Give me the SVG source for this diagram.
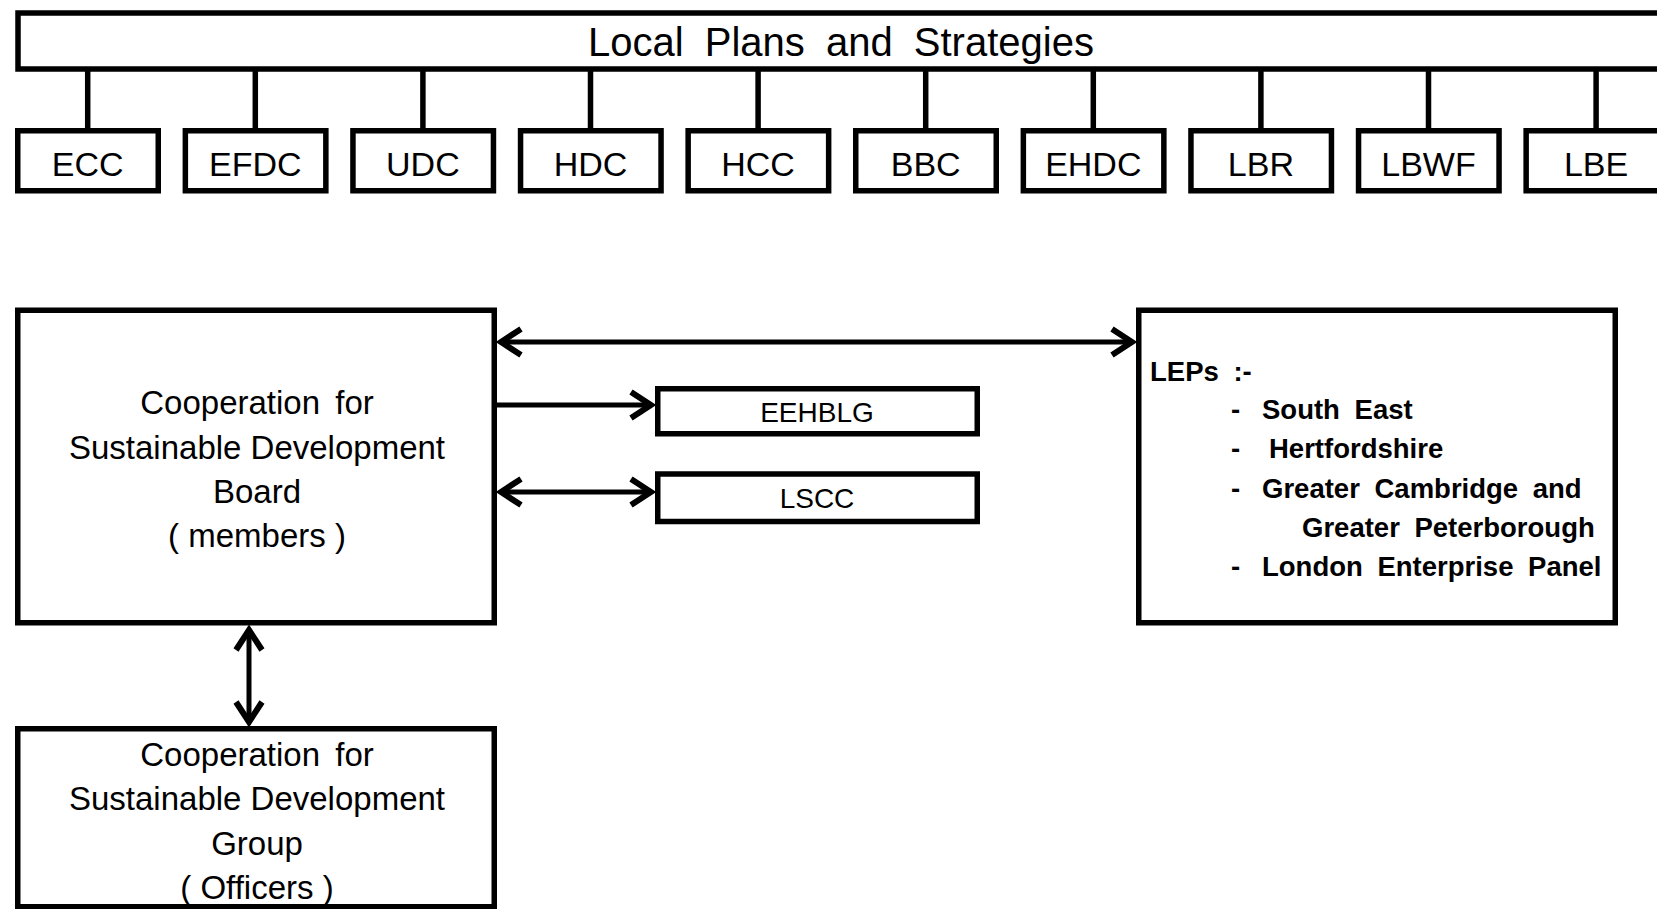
<svg xmlns="http://www.w3.org/2000/svg" width="1657" height="909" viewBox="0 0 1657 909">
<style>
.box{fill:#fff;stroke:#000;stroke-width:5.5}
.ln{stroke:#000;stroke-width:5.5;fill:none}
.ar{stroke:#000;stroke-width:5;fill:none}
text{font-family:"Liberation Sans",Arial,sans-serif;fill:#000}
.t{font-size:33px;text-anchor:middle}
.s{font-size:34px;text-anchor:middle}
.m{font-size:28px;text-anchor:middle}
.l{font-size:27.5px;font-weight:bold;word-spacing:7px}
</style>
<defs>
<marker id="ah" viewBox="0 0 30 34" refX="26" refY="17" markerWidth="30" markerHeight="34" markerUnits="userSpaceOnUse" orient="auto-start-reverse">
<path d="M5,4 L25,17 L5,30" fill="none" stroke="#000" stroke-width="6"/>
</marker>
</defs>
<g id="connectors">
<g class="ln">
<line x1="87.7" y1="70" x2="87.7" y2="129"/>
<line x1="255.3" y1="70" x2="255.3" y2="129"/>
<line x1="422.9" y1="70" x2="422.9" y2="129"/>
<line x1="590.5" y1="70" x2="590.5" y2="129"/>
<line x1="758.1" y1="70" x2="758.1" y2="129"/>
<line x1="925.7" y1="70" x2="925.7" y2="129"/>
<line x1="1093.3" y1="70" x2="1093.3" y2="129"/>
<line x1="1260.9" y1="70" x2="1260.9" y2="129"/>
<line x1="1428.5" y1="70" x2="1428.5" y2="129"/>
<line x1="1596.1" y1="70" x2="1596.1" y2="129"/>
</g>
<g class="ar">
<line x1="500" y1="342" x2="1133" y2="342" marker-start="url(#ah)" marker-end="url(#ah)"/>
<line x1="497" y1="405" x2="652" y2="405" marker-end="url(#ah)"/>
<line x1="500" y1="492" x2="652" y2="492" marker-start="url(#ah)" marker-end="url(#ah)"/>
<line x1="249" y1="629" x2="249" y2="723" marker-start="url(#ah)" marker-end="url(#ah)"/>
</g>
</g>
<g id="local-plans">
<rect class="box" x="18" y="13" width="1660" height="56"/>
<text x="841" y="56" style="font-size:40px;text-anchor:middle;word-spacing:10px">Local Plans and Strategies</text>
</g>
<g id="ECC"><rect class="box" x="17.75" y="130.75" width="140.5" height="60"/><text class="s" x="87.7" y="176">ECC</text></g>
<g id="EFDC"><rect class="box" x="185.35" y="130.75" width="140.5" height="60"/><text class="s" x="255.3" y="176">EFDC</text></g>
<g id="UDC"><rect class="box" x="352.95" y="130.75" width="140.5" height="60"/><text class="s" x="422.9" y="176">UDC</text></g>
<g id="HDC"><rect class="box" x="520.55" y="130.75" width="140.5" height="60"/><text class="s" x="590.5" y="176">HDC</text></g>
<g id="HCC"><rect class="box" x="688.15" y="130.75" width="140.5" height="60"/><text class="s" x="758.1" y="176">HCC</text></g>
<g id="BBC"><rect class="box" x="855.75" y="130.75" width="140.5" height="60"/><text class="s" x="925.7" y="176">BBC</text></g>
<g id="EHDC"><rect class="box" x="1023.35" y="130.75" width="140.5" height="60"/><text class="s" x="1093.3" y="176">EHDC</text></g>
<g id="LBR"><rect class="box" x="1190.95" y="130.75" width="140.5" height="60"/><text class="s" x="1260.9" y="176">LBR</text></g>
<g id="LBWF"><rect class="box" x="1358.55" y="130.75" width="140.5" height="60"/><text class="s" x="1428.5" y="176">LBWF</text></g>
<g id="LBE"><rect class="box" x="1526.15" y="130.75" width="140.5" height="60"/><text class="s" x="1596.1" y="176">LBE</text></g>
<g id="board">
<rect class="box" x="17.75" y="310.25" width="476.5" height="312.5"/>
<text class="t" x="257" y="414" style="word-spacing:6px">Cooperation for</text>
<text class="t" x="257" y="458.5">Sustainable Development</text>
<text class="t" x="257" y="503">Board</text>
<text class="t" x="257" y="547">( members )</text>
</g>
<g id="EEHBLG">
<rect class="box" x="657.75" y="388.75" width="319.5" height="45"/>
<text class="m" x="817" y="422">EEHBLG</text>
</g>
<g id="LSCC">
<rect class="box" x="657.75" y="474" width="319.5" height="47.5"/>
<text class="m" x="817" y="508">LSCC</text>
</g>
<g id="LEPs">
<rect class="box" x="1138.75" y="310.25" width="476.5" height="312.5"/>
<text class="l" x="1150" y="381">LEPs :-</text>
<text class="l" x="1231" y="419">-</text><text class="l" x="1262" y="419">South East</text>
<text class="l" x="1231" y="458">-</text><text class="l" x="1269" y="458">Hertfordshire</text>
<text class="l" x="1231" y="498">-</text><text class="l" x="1262" y="498">Greater Cambridge and</text>
<text class="l" x="1302" y="537">Greater Peterborough</text>
<text class="l" x="1231" y="576">-</text><text class="l" x="1262" y="576">London Enterprise Panel</text>
</g>
<g id="group">
<rect class="box" x="17.75" y="728.75" width="476.5" height="178"/>
<text class="t" x="257" y="766" style="word-spacing:6px">Cooperation for</text>
<text class="t" x="257" y="810">Sustainable Development</text>
<text class="t" x="257" y="855">Group</text>
<text class="t" x="257" y="899">( Officers )</text>
</g>
</svg>
